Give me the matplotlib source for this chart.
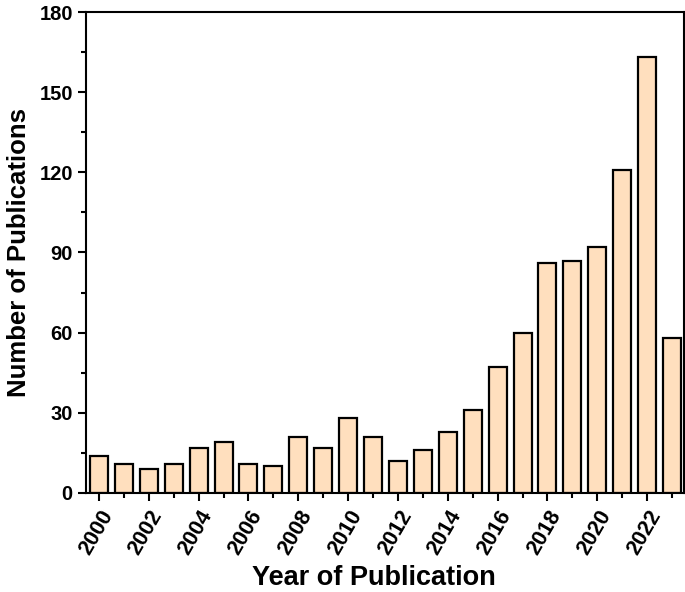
import numpy as np
import matplotlib.pyplot as plt
import matplotlib.transforms as mtransforms
from matplotlib.ticker import MultipleLocator

plt.rcParams['font.family'] = ['Liberation Sans', 'DejaVu Sans']
plt.rcParams['font.weight'] = 'bold'

# Publications per year
years = list(range(2000, 2024))
counts = [14, 11, 9, 11, 17, 19, 11, 10, 21, 17, 28, 21, 12, 16,
          23, 31, 47, 60, 86, 87, 92, 121, 163, 58]
tick_years = list(range(2000, 2024, 2))

fig = plt.figure(figsize=(6.85, 5.92), dpi=100)
ax = fig.add_axes([86 / 685, 1 - 493 / 592, 598 / 685, 481 / 592])

ax.bar(years, counts, width=0.72, color='#FFDFBE', edgecolor='black', linewidth=1.6)

ax.set_xlim(1999.48, 2023.48)
ax.set_ylim(0, 180)
ax.set_xticks(tick_years)
ax.set_xticklabels([str(y) for y in tick_years], rotation=60, ha='right',
                   rotation_mode='anchor', fontsize=15.5, fontweight='bold')
# nudge rotated labels to the right, like the original
shift = mtransforms.ScaledTranslation(11 / 72, -3 / 72, fig.dpi_scale_trans)
for lab in ax.get_xticklabels():
    lab.set_transform(lab.get_transform() + shift)
ax.xaxis.set_minor_locator(MultipleLocator(1))
ax.yaxis.set_major_locator(MultipleLocator(30))
ax.yaxis.set_minor_locator(MultipleLocator(15))
for lab in ax.get_yticklabels():
    lab.set_fontsize(14.5)
    lab.set_fontweight('bold')

ax.tick_params(which='major', direction='out', length=6, width=1.5, top=False, right=False)
ax.tick_params(which='minor', direction='out', length=3.5, width=1.5, top=False, right=False)
for s in ax.spines.values():
    s.set_linewidth(1.5)

ax.set_xlabel('Year of Publication', fontsize=19.5, fontweight='bold', labelpad=6)
ax.set_ylabel('Number of Publications', fontsize=18.5, fontweight='bold', labelpad=6)
ax.xaxis.set_label_coords(0.482, -0.15)

fig.savefig('out.png', dpi=100)
